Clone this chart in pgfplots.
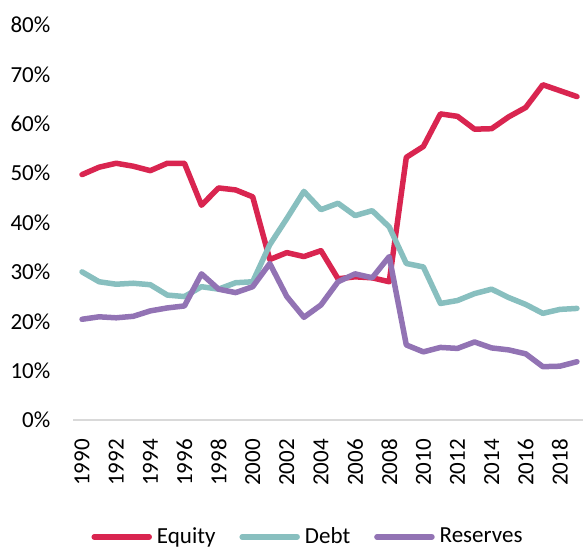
\documentclass[border=0pt]{standalone}
\usepackage{fontspec}
\setmainfont{Carlito}
\usepackage{pgfplots}
\pgfplotsset{compat=1.18}
\definecolor{eqc}{HTML}{D92550}
\definecolor{dbc}{HTML}{88BFBF}
\definecolor{rsc}{HTML}{9273B4}
\definecolor{axc}{HTML}{D9D9D9}
\begin{document}
\fontsize{23bp}{27bp}\selectfont
\begin{tikzpicture}
\begin{axis}[
  name=ax,
  scale only axis=true,
  width=512bp, height=395bp,
  xmin=1989.5, xmax=2019.5,
  ymin=0, ymax=80,
  axis lines*=left,
  y axis line style={draw=none},
  x axis line style={draw=axc, line width=1.5bp, -},
  xtick={1990,1992,...,2018},
  xticklabels={1990,1992,1994,1996,1998,2000,2002,2004,2006,2008,2010,2012,2014,2016,2018},
  xticklabel style={rotate=90, anchor=east, inner sep=0pt, font=\fontsize{23bp}{27bp}\selectfont},
  xticklabel shift=19bp,
  major tick length=0pt,
  ytick={0,10,...,80},
  yticklabels={0\%,10\%,20\%,30\%,40\%,50\%,60\%,70\%,80\%},
  yticklabel style={anchor=east, inner sep=0pt, font=\fontsize{23bp}{27bp}\selectfont},
  yticklabel shift=23bp,
  /pgf/number format/assume math mode=true,
  clip=false,
  legend columns=3,
  legend style={at={(0.458,-0.296)}, anchor=center, draw=none, fill=none,
    font=\fontsize{23bp}{27bp}\selectfont, inner sep=0pt,
    /tikz/every odd column/.append style={column sep=3bp},
    /tikz/every even column/.append style={column sep=22bp}},
  legend image code/.code={\draw[#1, line width=5.5bp] (0bp,0bp) -- (55bp,0bp);},
  every axis plot/.append style={line width=5.5bp, line join=round, line cap=round},
]
\addplot[eqc] coordinates {
(1990,49.7)(1991,51.2)(1992,52.0)(1993,51.4)(1994,50.5)(1995,52.0)(1996,52.0)(1997,43.5)(1998,47.0)(1999,46.6)
(2000,45.2)(2001,32.5)(2002,33.9)(2003,33.1)(2004,34.3)(2005,28.6)(2006,29.0)(2007,28.8)(2008,28.0)(2009,53.2)
(2010,55.4)(2011,62.0)(2012,61.5)(2013,58.9)(2014,59.0)(2015,61.4)(2016,63.3)(2017,67.9)(2018,66.7)(2019,65.5)};
\addlegendentry{Equity}
\addplot[dbc] coordinates {
(1990,30.0)(1991,28.0)(1992,27.5)(1993,27.7)(1994,27.4)(1995,25.3)(1996,25.0)(1997,27.0)(1998,26.5)(1999,27.8)
(2000,28.0)(2001,35.5)(2002,40.8)(2003,46.3)(2004,42.6)(2005,43.9)(2006,41.4)(2007,42.4)(2008,39.1)(2009,31.7)
(2010,31.0)(2011,23.6)(2012,24.2)(2013,25.6)(2014,26.5)(2015,24.8)(2016,23.4)(2017,21.6)(2018,22.4)(2019,22.6)};
\addlegendentry{Debt}
\addplot[rsc] coordinates {
(1990,20.4)(1991,20.9)(1992,20.7)(1993,21.0)(1994,22.1)(1995,22.7)(1996,23.1)(1997,29.6)(1998,26.5)(1999,25.8)
(2000,27.0)(2001,31.7)(2002,25.0)(2003,20.8)(2004,23.3)(2005,28.0)(2006,29.6)(2007,28.8)(2008,33.1)(2009,15.2)
(2010,13.8)(2011,14.7)(2012,14.5)(2013,15.8)(2014,14.6)(2015,14.2)(2016,13.4)(2017,10.8)(2018,10.9)(2019,11.8)};
\addlegendentry{Reserves}
\end{axis}
\pgfresetboundingbox
\path[use as bounding box] ([xshift=-73.5bp, yshift=-128bp]ax.south west) rectangle ++(583bp,548bp);
\end{tikzpicture}
\end{document}
